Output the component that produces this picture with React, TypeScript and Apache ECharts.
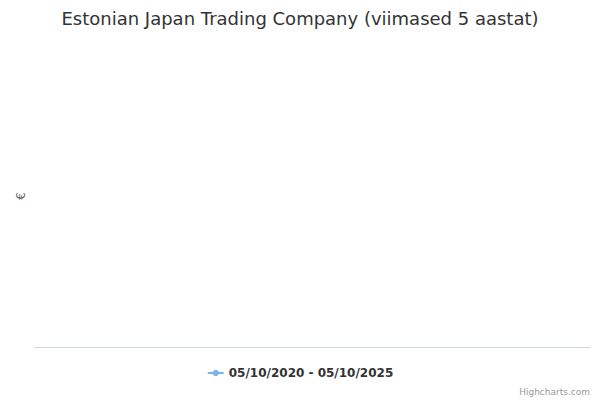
import { useEffect, useRef } from "react";
import * as echarts from "echarts";

// The reference shows an empty chart: one series with no points
const TITLE = "Estonian Japan Trading Company (viimased 5 aastat)";
const SERIES_NAME = "05/10/2020 - 05/10/2025";
const CATEGORIES: string[] = [];
const PRICES: number[] = [];

const FONT = "'DejaVu Sans', sans-serif";

export default function App() {
  const ref = useRef<HTMLDivElement>(null);

  useEffect(() => {
    if (!ref.current) return;
    const inst = echarts.init(ref.current, undefined, { renderer: "svg" });
    inst.setOption({
      animation: false,
      backgroundColor: "#ffffff",
      textStyle: { fontFamily: FONT },
      title: {
        text: TITLE,
        left: "center",
        top: 4,
        textStyle: { fontFamily: FONT, fontSize: 18, fontWeight: "normal", color: "#333333" },
      },
      grid: { left: 35, right: 10, top: 45, bottom: 53 },
      legend: {
        bottom: 16,
        left: "center",
        itemWidth: 16,
        itemHeight: 8,
        itemGap: 6,
        textStyle: { fontFamily: FONT, fontSize: 12, fontWeight: "bold", color: "#333333" },
        data: [SERIES_NAME],
      },
      xAxis: {
        type: "category",
        data: CATEGORIES,
        axisLine: { show: true, lineStyle: { color: "#ccd6eb" } },
        axisTick: { show: false },
        axisLabel: { show: false },
      },
      yAxis: {
        type: "value",
        name: "€",
        nameLocation: "middle",
        nameRotate: 90,
        nameGap: 8,
        nameTextStyle: { fontFamily: FONT, fontSize: 12, color: "#666666" },
        axisLine: { show: false },
        axisTick: { show: false },
        axisLabel: { show: false },
        splitLine: { show: false },
      },
      series: [
        {
          name: SERIES_NAME,
          type: "line",
          data: PRICES,
          color: "#7cb5ec",
          symbol: "circle",
          symbolSize: 8,
          lineStyle: { width: 2 },
        },
      ],
      graphic: [
        {
          type: "text",
          right: 10,
          bottom: 4,
          style: { text: "Highcharts.com", fontFamily: FONT, fontSize: 9, fill: "#999999" },
        },
      ],
    });
    return () => inst.dispose();
  }, []);

  return <div ref={ref} style={{ position: "fixed", left: 0, top: 0, width: 600, height: 400 }} />;
}
